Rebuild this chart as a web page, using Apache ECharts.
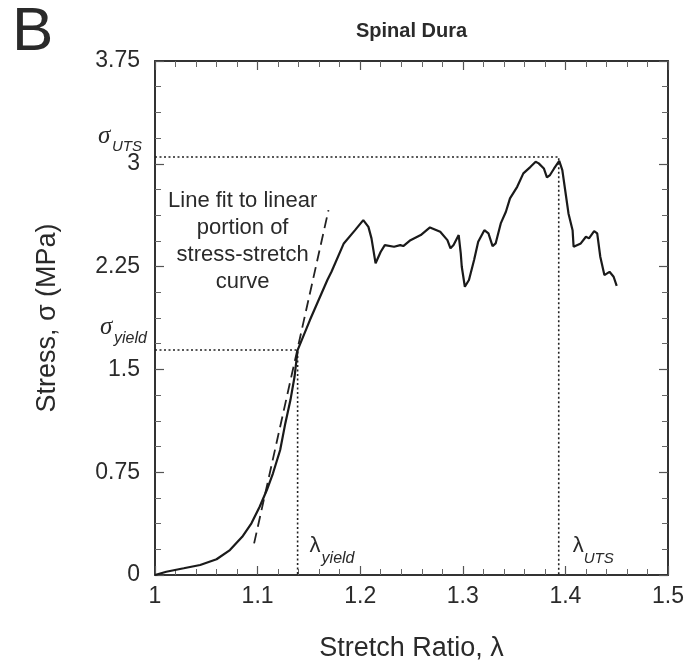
<!DOCTYPE html>
<html><head><meta charset="utf-8">
<script src="https://cdn.jsdelivr.net/npm/echarts@6/dist/echarts.min.js"></script>
<style>html,body{margin:0;padding:0;background:#fff}#c{width:689px;height:665px}</style>
</head><body><div id="c"></div>
<script>
// Stress-stretch curve
const stretch = [
  1.000,1.011,1.028,1.044,1.060,1.073,1.085,1.094,1.102,1.109,1.115,1.122,1.127,1.132,1.136,1.139,
  1.151,1.168,1.172,1.184,1.195,1.203,1.208,1.211,1.215,1.220,1.224,1.233,1.239,
  1.242,1.249,1.259,1.268,1.278,1.285,1.288,1.291,1.296,1.298,1.299,1.302,1.306,1.311,1.315,1.321,
  1.325,1.329,1.332,1.337,1.342,1.346,1.353,1.359,1.366,1.371,1.374,1.379,1.382,1.385,1.389,1.394,
  1.397,1.400,1.403,1.407,1.408,1.415,1.420,1.423,1.428,1.431,1.434,1.438,1.443,1.447,1.450
];
const stress = [
  0.000,0.024,0.049,0.073,0.115,0.182,0.279,0.377,0.498,0.620,0.742,0.912,1.106,1.276,1.446,1.641,
  1.860,2.152,2.212,2.419,2.516,2.589,2.540,2.456,2.274,2.358,2.407,2.395,2.407,
  2.400,2.443,2.480,2.536,2.504,2.443,2.383,2.407,2.480,2.347,2.249,2.103,2.152,2.298,2.431,2.516,
  2.492,2.400,2.419,2.565,2.650,2.748,2.832,2.930,2.978,3.015,3.003,2.966,2.901,2.918,2.966,3.022,
  2.954,2.796,2.638,2.516,2.395,2.419,2.468,2.456,2.509,2.492,2.322,2.188,2.212,2.176,2.110
];
// Line fit to linear portion
const fitStretch = [1.0966, 1.1691];
const fitStress = [0.231, 2.662];
// Yield and ultimate points
const yieldStretch = 1.139, yieldStress = 1.641;
const utsStretch = 1.3935, utsStress = 3.05;
// Axis ticks
const xTicks = [1, 1.1, 1.2, 1.3, 1.4, 1.5];
const yTicks = [0, 0.75, 1.5, 2.25, 3, 3.75];

const TXT = '#2a2a2a';
const SANS = 'Liberation Sans';
const SERIF = 'Liberation Serif';

const curve = stretch.map((x, i) => [x, stress[i]]);
const fit = fitStretch.map((x, i) => [x, fitStress[i]]);
const yieldRef = [[xTicks[0], yieldStress], [yieldStretch, yieldStress], [yieldStretch, yTicks[0]]];
const utsRef = [[xTicks[0], utsStress], [utsStretch, utsStress], [utsStretch, yTicks[0]]];

function xAxisCfg(pos, labels) {
  return {
    type: 'value', position: pos,
    min: xTicks[0], max: xTicks[xTicks.length - 1], interval: 0.1,
    axisLine: {show: true, onZero: false, lineStyle: {color: '#333', width: 2}},
    axisTick: {show: true, inside: true, length: 9, lineStyle: {color: '#555', width: 1.2}},
    minorTick: {show: true, splitNumber: 5, length: 6, lineStyle: {color: '#666', width: 1}},
    splitLine: {show: false},
    axisLabel: {show: labels, margin: 10, fontSize: 23, fontFamily: SANS, color: TXT},
    name: labels ? 'Stretch Ratio, λ' : '',
    nameLocation: 'middle', nameGap: 60,
    nameTextStyle: {fontSize: 27, fontFamily: SANS, color: TXT}
  };
}
function yAxisCfg(pos, labels) {
  return {
    type: 'value', position: pos,
    min: yTicks[0], max: yTicks[yTicks.length - 1], interval: 0.75,
    axisLine: {show: true, onZero: false, lineStyle: {color: '#333', width: 2}},
    axisTick: {show: true, inside: true, length: 9, lineStyle: {color: '#555', width: 1.2}},
    minorTick: {show: true, splitNumber: 4, length: 6, lineStyle: {color: '#666', width: 1}},
    splitLine: {show: false},
    axisLabel: {show: labels, margin: 15, fontSize: 23, fontFamily: SANS, color: TXT},
    name: labels ? 'Stress, σ (MPa)' : '',
    nameLocation: 'middle', nameGap: 94, nameRotate: 90,
    nameTextStyle: {fontSize: 27, fontFamily: SANS, color: TXT}
  };
}

const chart = echarts.init(document.getElementById('c'));
chart.setOption({
  animation: false,
  backgroundColor: '#fff',
  grid: {left: 155, right: 21, top: 61, bottom: 90, containLabel: false, outerBoundsMode: 'none'},
  xAxis: [xAxisCfg('bottom', true), xAxisCfg('top', false)],
  yAxis: [yAxisCfg('left', true), yAxisCfg('right', false)],
  series: [
    {type: 'line', data: yieldRef, showSymbol: false, silent: true,
     lineStyle: {color: '#222', width: 1.6, type: [2, 2.5]}},
    {type: 'line', data: utsRef, showSymbol: false, silent: true,
     lineStyle: {color: '#222', width: 1.6, type: [2, 2.5]}},
    {type: 'line', data: fit, showSymbol: false, silent: true,
     lineStyle: {color: '#222', width: 1.8, type: [11, 6]}},
    {type: 'line', data: curve, showSymbol: false, silent: true,
     lineStyle: {color: '#1a1a1a', width: 2.2}}
  ]
});

const P = (x, y) => chart.convertToPixel({seriesIndex: 3}, [x, y]);
function txt(text, x, y, size, opts) {
  opts = opts || {};
  return {
    type: 'text', silent: true,
    style: {
      text: text, x: x, y: y,
      font: (opts.style || 'normal') + ' ' + (opts.weight || 'normal') + ' ' + size + 'px "' + (opts.family || SANS) + '"',
      fill: opts.color || TXT,
      align: opts.align || 'left', textAlign: opts.align || 'left',
      verticalAlign: 'middle', textVerticalAlign: 'middle',
      lineHeight: opts.lineHeight
    }
  };
}
const o = P(xTicks[0], yTicks[0]);
const topRight = P(xTicks[xTicks.length - 1], yTicks[yTicks.length - 1]);
const cx = (o[0] + topRight[0]) / 2;
const u = P(utsStretch, utsStress);
const yl = P(yieldStretch, yieldStress);
const note = P(1.0854, 2.436);
chart.setOption({
  graphic: [
    txt('B', 12, 33, 62, {}),
    txt('Spinal Dura', cx, 31, 20, {weight: 'bold', align: 'center'}),
    txt('Line fit to linear\nportion of\nstress-stretch\ncurve', note[0], note[1], 22, {align: 'center', lineHeight: 27}),
    // sigma UTS
    txt('σ', o[0] - 57, u[1] - 21, 25, {style: 'italic', family: SERIF}),
    txt('UTS', o[0] - 43, u[1] - 10, 15, {style: 'italic'}),
    // sigma yield
    txt('σ', o[0] - 55, yl[1] - 23, 25, {style: 'italic', family: SERIF}),
    txt('yield', o[0] - 41, yl[1] - 12, 16, {style: 'italic'}),
    // lambda yield
    txt('λ', yl[0] + 12, o[1] - 29, 22, {}),
    txt('yield', yl[0] + 24, o[1] - 16, 16, {style: 'italic'}),
    // lambda UTS
    txt('λ', u[0] + 14, o[1] - 29, 22, {}),
    txt('UTS', u[0] + 25, o[1] - 16, 15, {style: 'italic'})
  ]
});
</script>
</body></html>
